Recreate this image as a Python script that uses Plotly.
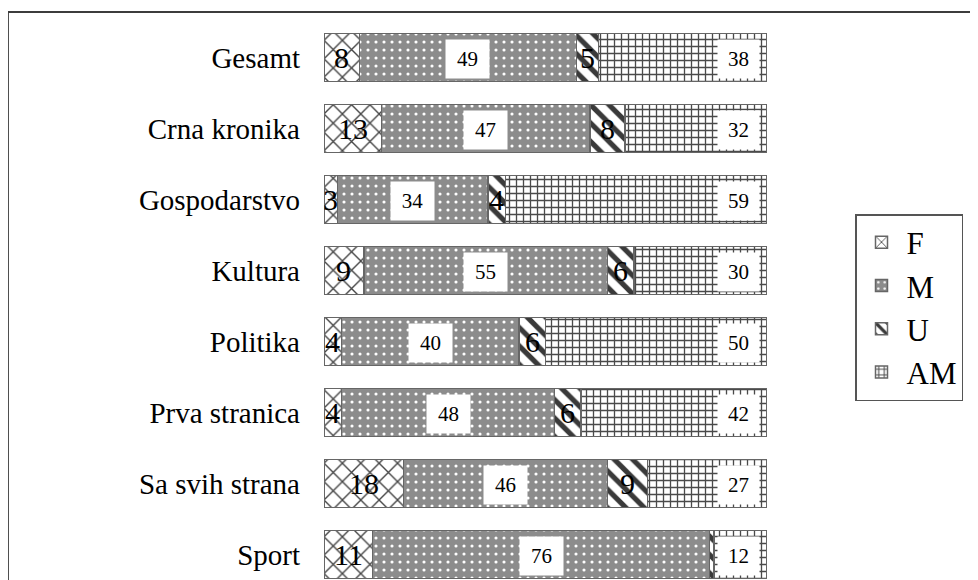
import plotly.graph_objects as go

categories = ["Gesamt", "Crna kronika", "Gospodarstvo", "Kultura", "Politika",
              "Prva stranica", "Sa svih strana", "Sport"]
series_names = ["F", "M", "U", "AM"]
F = [8, 13, 3, 9, 4, 4, 18, 11]
M = [49, 47, 34, 55, 40, 48, 46, 76]
U = [5, 8, 4, 6, 6, 6, 9, 1]
AM = [38, 32, 59, 30, 50, 42, 27, 12]

SERIF = "Liberation Serif, Times New Roman, serif"
OFF = 8  # page body margin
W, H = 978 - OFF, 580 - OFF
# page-pixel layout targets
P_LEFT, P_RIGHT, P_TOP = 324, 767, 22
ML = P_LEFT - OFF
MR = W - (P_RIGHT - OFF)
MT = P_TOP - OFF
MB = 0
PW, PH = W - ML - MR, H - MT - MB
ROW = 71.0
FIRST_CENTER = 57.5  # page px

def px_x(p):
    return (p - OFF - ML) / PW

def px_y(p):
    return 1 - (p - OFF - MT) / PH

styles = {
    "F": dict(shape="x", fgcolor="#444444", bgcolor="white", size=13, solidity=0.2),
    "M": dict(shape=".", fgcolor="white", bgcolor="#8c8c8c", size=8, solidity=0.12),
    "U": dict(shape="\\", fgcolor="#3a3a3a", bgcolor="white", size=13, solidity=0.4),
    "AM": dict(shape="+", fgcolor="#4a4a4a", bgcolor="white", size=7, solidity=0.34),
}

fig = go.Figure()
for name, vals in zip(series_names, [F, M, U, AM]):
    st = styles[name]
    fig.add_trace(go.Bar(
        name=name, y=categories, x=vals, orientation="h",
        legendgroup=name,
        marker=dict(color=st["bgcolor"],
                    line=dict(color="#666666", width=1.5),
                    pattern=dict(shape=st["shape"], fgcolor=st["fgcolor"],
                                 bgcolor=st["bgcolor"], size=st["size"],
                                 solidity=st["solidity"], fillmode="replace")),
        hoverinfo="x+y+name",
    ))

annotations = []
for i, cat in enumerate(categories):
    f, m, u, am = F[i], M[i], U[i], AM[i]
    if f > 1:
        annotations.append(dict(x=f / 2, y=cat, text=str(f), showarrow=False,
                                font=dict(family=SERIF, size=30, color="black")))
    if m > 1:
        annotations.append(dict(x=f + m / 2, y=cat, text=str(m), showarrow=False,
                                font=dict(family=SERIF, size=21, color="black"),
                                bgcolor="white", width=43, height=38, borderpad=0,
                                yshift=-1))
    if u > 1:
        annotations.append(dict(x=f + m + u / 2, y=cat, text=str(u), showarrow=False,
                                font=dict(family=SERIF, size=30, color="black")))
    if am > 1:
        annotations.append(dict(x=f + m + u + am, y=cat, text=str(am), showarrow=False,
                                xanchor="right", xshift=-7,
                                font=dict(family=SERIF, size=21, color="black"),
                                bgcolor="white", width=41, height=38, borderpad=0,
                                yshift=-1))

shapes = [dict(type="rect", xref="paper", yref="paper",
               x0=px_x(8), y0=px_y(610), x1=px_x(1000), y1=px_y(12),
               line=dict(color="#3c3c3c", width=1.8), fillcolor="rgba(0,0,0,0)",
               layer="below")]

top_val = -0.5 - (P_TOP - (FIRST_CENTER - ROW / 2)) / ROW
bottom_val = top_val + PH / ROW

fig.update_layout(
    width=W, height=H,
    margin=dict(l=ML, r=MR, t=MT, b=MB, pad=0),
    barmode="stack", bargap=0.32,
    plot_bgcolor="white", paper_bgcolor="white",
    font=dict(family=SERIF, color="black"),
    xaxis=dict(range=[0, 100], visible=False, fixedrange=True),
    yaxis=dict(type="category", categoryorder="array", categoryarray=categories,
               range=[bottom_val, top_val], showgrid=False, zeroline=False,
               showline=False, ticks="", ticklabelstandoff=23,
               tickfont=dict(family=SERIF, size=29, color="black"), fixedrange=True),
    legend=dict(x=px_x(855), y=px_y(214), xanchor="left", yanchor="top",
                xref="paper", yref="paper",
                bordercolor="#555555", borderwidth=1.5, bgcolor="white",
                font=dict(family=SERIF, size=31, color="black"),
                traceorder="normal", tracegroupgap=2, itemwidth=40,
                itemclick=False, itemdoubleclick=False),
    annotations=annotations,
    shapes=shapes,
    showlegend=True,
)

fig.write_html("out.html")
